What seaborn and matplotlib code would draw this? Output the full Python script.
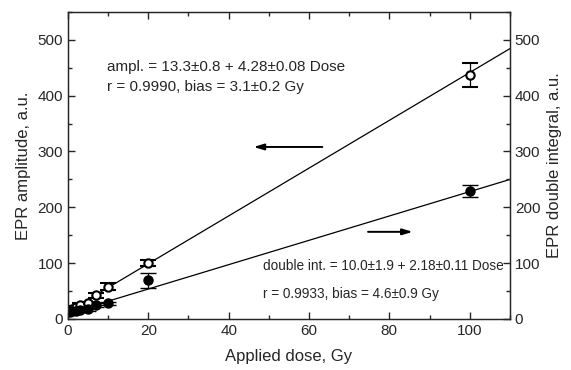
import numpy as np
import pandas as pd
import matplotlib
matplotlib.use("Agg")
import matplotlib.pyplot as plt
import seaborn as sns
from matplotlib.ticker import MultipleLocator

# Data
dose = [0.5, 1, 2, 3, 5, 7, 10, 20, 100]
ampl = [15, 18, 21, 25, 28, 42, 58, 100, 437]
ampl_err = [3, 3, 3, 3, 3, 4, 6, 5, 21]
dint = [12, 14, 15, 16, 17, 25, 28, 69, 229]
dint_err = [3, 3, 3, 3, 3, 3, 3, 14, 11]

ampl_fit = [13.3, 4.28]   # intercept, slope
dint_fit = [10.0, 2.18]

xlim = [0, 110]
ylim = [0, 550]

sns.set_style("ticks")
plt.rcParams['font.family'] = ['Liberation Sans', 'DejaVu Sans']

fig = plt.figure(figsize=(5.71, 3.70), dpi=100)
ax = fig.add_axes([0.119, 0.138, 0.774, 0.830])

xx = np.array(xlim, dtype=float)
fit_df = pd.DataFrame({
    "x": np.concatenate([xx, xx]),
    "y": np.concatenate([ampl_fit[0] + ampl_fit[1] * xx, dint_fit[0] + dint_fit[1] * xx]),
    "s": ["a", "a", "d", "d"],
})
sns.lineplot(data=fit_df, x="x", y="y", units="s", estimator=None, color="black",
             lw=0.9, ax=ax, legend=False)

ax.errorbar(dose, ampl, yerr=ampl_err, fmt="o", mfc="white", mec="black", mew=1.5,
            ms=6, ecolor="black", elinewidth=0.9, capsize=6, capthick=0.9, zorder=4)
ax.errorbar(dose, dint, yerr=dint_err, fmt="o", mfc="black", mec="black", mew=1.0,
            ms=6.5, ecolor="black", elinewidth=0.9, capsize=6, capthick=0.9, zorder=4)

ax.set_xlim(xlim)
ax.set_ylim(ylim)
ax.xaxis.set_major_locator(MultipleLocator(20))
ax.xaxis.set_minor_locator(MultipleLocator(10))
ax.yaxis.set_major_locator(MultipleLocator(100))
ax.yaxis.set_minor_locator(MultipleLocator(50))
ax.tick_params(which="both", direction="in", top=True, right=False, labelsize=11, width=1.0)
ax.tick_params(which="major", length=5)
ax.tick_params(which="minor", length=3)
for s in ax.spines.values():
    s.set_linewidth(1.0)

ax2 = ax.twinx()
ax2.set_ylim(ylim)
ax2.yaxis.set_major_locator(MultipleLocator(100))
ax2.yaxis.set_minor_locator(MultipleLocator(50))
ax2.tick_params(which="both", direction="in", labelsize=11, width=1.0)
ax2.tick_params(which="major", length=5)
ax2.tick_params(which="minor", length=3)
ax2.set_ylabel("EPR double integral, a.u.", fontsize=12, labelpad=5)

ax.set_xlabel("Applied dose, Gy", fontsize=12, labelpad=8)
ax.set_ylabel("EPR amplitude, a.u.", fontsize=12, labelpad=5)

ax.text(9.7, 452, "ampl. = 13.3\u00b10.8 + 4.28\u00b10.08 Dose", fontsize=11, va="center")
ax.text(9.7, 416, "r = 0.9990, bias = 3.1\u00b10.2 Gy", fontsize=11, va="center")
ax.text(48.6, 95, "double int. = 10.0\u00b11.9 + 2.18\u00b10.11 Dose", fontsize=9.8, va="center")
ax.text(48.6, 45, "r = 0.9933, bias = 4.6\u00b10.9 Gy", fontsize=9.8, va="center")

ax.annotate("", xy=(45.5, 308), xytext=(64, 308),
            arrowprops=dict(arrowstyle="-|>,head_length=0.6,head_width=0.18", color="black", lw=1.4))
ax.annotate("", xy=(86.5, 156), xytext=(74, 156),
            arrowprops=dict(arrowstyle="-|>,head_length=0.6,head_width=0.18", color="black", lw=1.4))

fig.savefig("out.png", dpi=100)
